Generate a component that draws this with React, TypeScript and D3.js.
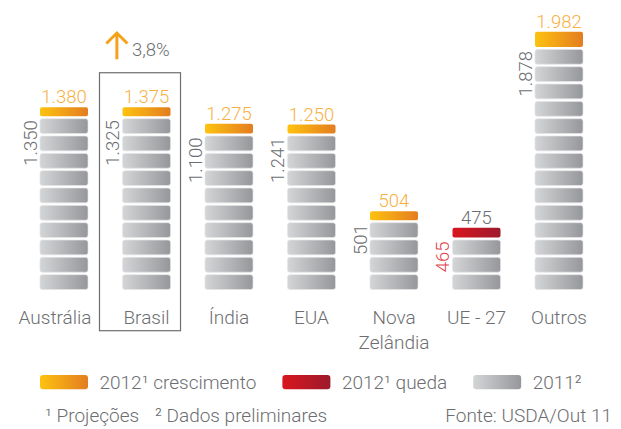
import React, { useEffect, useRef } from 'react';
import * as d3 from 'd3';

const categories = ['Austrália', 'Brasil', 'Índia', 'EUA', 'Nova Zelândia', 'UE - 27', 'Outros'];
const values2011 = [1350, 1325, 1100, 1241, 501, 465, 1878];
const values2012 = [1380, 1375, 1275, 1250, 504, 475, 1982];
const blocks2011 = [10, 10, 9, 9, 4, 3, 14];
const trend2012 = ['crescimento', 'crescimento', 'crescimento', 'crescimento', 'crescimento', 'queda', 'crescimento'];
const highlighted = 'Brasil';
const legendLabels = ['2012¹ crescimento', '2012¹ queda', '2011²'];
const legendKeys = ['up', 'down', 'base'];
const footnotes = ['¹ Projeções', '² Dados preliminares'];
const source = 'Fonte: USDA/Out 11';

const W = 621;
const H = 429;
const FONT = "'Roboto', 'Open Sans', sans-serif";
const WEIGHT = 300;
const TEXT = '#6d6e71';

export default function App() {
  const ref = useRef<SVGSVGElement | null>(null);

  useEffect(() => {
    const svg = d3.select(ref.current);
    svg.selectAll('*').remove();

    const loc = d3.formatLocale({ decimal: ',', thousands: '.', grouping: [3], currency: ['R$', ''] });
    const fmt = loc.format(',d');
    const fmtPct = loc.format(',.1f');

    const x = d3.scaleBand<string>().domain(categories).range([22.75, 600.25]).paddingInner(0.418).paddingOuter(0.209);
    const y = d3.scaleLinear().domain([0, 2000]).range([289.5, 29.5]);
    const base = y(0);
    const bw = x.bandwidth();
    const period = 17.33;
    const tileH = 14.8;
    const gap = 2.5;
    const minH = 9;

    const defs = svg.append('defs');
    const grad = (id: string, c0: string, c1: string) => {
      const g = defs.append('linearGradient').attr('id', id).attr('x1', 0).attr('x2', 1).attr('y1', 0).attr('y2', 0);
      g.append('stop').attr('offset', '0%').attr('stop-color', c0);
      g.append('stop').attr('offset', '100%').attr('stop-color', c1);
    };
    grad('g-base', '#d4d5d7', '#96979a');
    grad('g-up', '#fec20f', '#e37d21');
    grad('g-down', '#d9161f', '#9c1a2b');

    const data = categories.map((c, i) => {
      const grayTop = base - (blocks2011[i] - 1) * period - tileH;
      const capBottom = grayTop - gap;
      const capTop = Math.min(y(values2012[i]), capBottom - minH);
      return { c, i, v11: values2011[i], v12: values2012[i], n: blocks2011[i], grayTop, capBottom, capTop, trend: trend2012[i] };
    });

    const g = svg.append('g');
    const txt = (sel: any, size: number, fill: string) =>
      sel.attr('font-family', FONT).attr('font-weight', WEIGHT).attr('font-size', size).attr('fill', fill);

    data.forEach((d) => {
      const x0 = x(d.c)!;
      // 2011 blocks
      g.append('g')
        .selectAll('rect')
        .data(d3.range(d.n))
        .join('rect')
        .attr('x', x0)
        .attr('y', (k) => base - k * period - tileH)
        .attr('width', bw)
        .attr('height', tileH)
        .attr('rx', 2.5)
        .attr('fill', 'url(#g-base)')
        .attr('stroke', '#e3e4e5')
        .attr('stroke-width', 0.7);

      // 2012 cap
      g.append('rect')
        .attr('x', x0)
        .attr('y', d.capTop)
        .attr('width', bw)
        .attr('height', d.capBottom - d.capTop)
        .attr('rx', 2)
        .attr('fill', d.trend === 'queda' ? 'url(#g-down)' : 'url(#g-up)');

      // 2012 value label
      txt(
        g.append('text')
          .attr('x', x0 + bw / 2)
          .attr('y', d.capTop - 4)
          .attr('text-anchor', 'middle'),
        18.5,
        d.trend === 'queda' ? TEXT : '#f8b042'
      ).text(fmt(d.v12));

      // 2011 value label (rotated)
      txt(
        g.append('text')
          .attr('transform', `translate(${x0 - 3},${d.grayTop + 1.5}) rotate(-90)`)
          .attr('text-anchor', 'end'),
        18.5,
        d.trend === 'queda' ? '#e0434c' : TEXT
      ).text(fmt(d.v11));
    });

    // highlight box for Brasil
    const hb = data[categories.indexOf(highlighted)];
    const hx = x(highlighted)!;
    const boxLeft = hx - 23;
    const boxRight = hx + bw + 10;
    const boxTop = hb.capTop - 34.5;
    const boxBottom = 330.7;
    g.append('rect')
      .attr('x', boxLeft)
      .attr('y', boxTop)
      .attr('width', boxRight - boxLeft)
      .attr('height', boxBottom - boxTop)
      .attr('fill', 'none')
      .attr('stroke', TEXT)
      .attr('stroke-width', 1.2);

    // growth arrow
    const ax = hx - 5.6;
    const aTop = boxTop - 40.7;
    const aBot = boxTop - 13.5;
    g.append('path')
      .attr('d', `M${ax},${aBot}L${ax},${aTop + 1}M${ax - 10.5},${aTop + 11.5}L${ax},${aTop + 1}L${ax + 10.5},${aTop + 11.5}`)
      .attr('fill', 'none')
      .attr('stroke', '#f6a11b')
      .attr('stroke-width', 3);
    const pct = (hb.v12 / hb.v11 - 1) * 100;
    txt(g.append('text').attr('x', ax + 15).attr('y', boxTop - 16.7), 18.5, TEXT).text(fmtPct(pct) + '%');

    // category labels
    data.forEach((d) => {
      const cx = x(d.c)! + bw / 2;
      const lines = d.c === 'Nova Zelândia' ? ['Nova', 'Zelândia'] : [d.c];
      const t = txt(g.append('text').attr('text-anchor', 'middle'), 19, TEXT);
      lines.forEach((ln, li) => {
        t.append('tspan').attr('x', cx).attr('y', 324.3 + li * 25).text(ln);
      });
      const node = t.node() as SVGTextElement;
      const w = node.getComputedTextLength();
      if (d.i < categories.indexOf(highlighted) && cx + w / 2 > boxLeft - 8) {
        t.attr('text-anchor', 'end').selectAll('tspan').attr('x', boxLeft - 8);
      }
    });

    // legend
    let lxp = 40;
    const ly0 = 375;
    legendLabels.forEach((lab, i) => {
      g.append('rect')
        .attr('x', lxp)
        .attr('y', ly0)
        .attr('width', 48)
        .attr('height', 14.3)
        .attr('rx', 3)
        .attr('fill', `url(#g-${legendKeys[i]})`);
      const t = txt(g.append('text').attr('x', lxp + 48 + 11.5).attr('y', ly0 + 14), 19, TEXT).text(lab);
      const w = (t.node() as SVGTextElement).getComputedTextLength();
      lxp = lxp + 48 + 11.5 + w + 26;
    });

    // footnotes
    [45, 155].forEach((fx, i) => {
      txt(g.append('text').attr('x', fx).attr('y', 422), 19, TEXT).text(footnotes[i]);
    });
    txt(g.append('text').attr('x', 612).attr('y', 422).attr('text-anchor', 'end'), 19, TEXT).text(source);
  }, []);

  return (
    <svg
      ref={ref}
      width={W}
      height={H}
      style={{ position: 'absolute', left: 0, top: 0, background: '#fff' }}
    />
  );
}
